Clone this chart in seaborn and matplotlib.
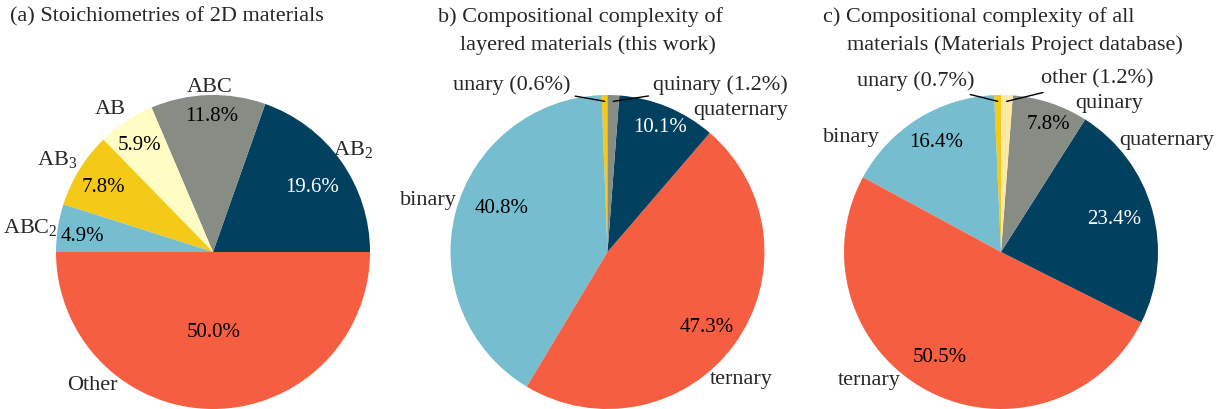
import matplotlib
matplotlib.use("Agg")
import matplotlib.pyplot as plt
import seaborn as sns
import numpy as np

# ---- data ----
stoich_labels = ["AB$_\\mathregular{2}$", "ABC", "AB", "AB$_\\mathregular{3}$", "ABC$_\\mathregular{2}$", "Other"]
stoich_values = [19.6, 11.8, 5.9, 7.8, 4.9, 50.0]

layered_labels = ["unary (0.6%)", "binary", "ternary", "quaternary", "quinary (1.2%)"]
layered_values = [0.6, 40.8, 47.3, 10.1, 1.2]

mp_labels = ["unary (0.7%)", "binary", "ternary", "quaternary", "quinary", "other (1.2%)"]
mp_values = [0.7, 16.4, 50.5, 23.4, 7.8, 1.2]

NAVY = "#01405f"
GREY = "#878c85"
CREAM = "#fffcc4"
YELLOW = "#f5c918"
BLUE = "#77bdd0"
RED = "#f55e40"
CREAM2 = "#fce9a4"

sns.set_theme(style="white")
plt.rcParams["font.family"] = ["Liberation Serif", "DejaVu Serif"]
plt.rcParams["mathtext.fontset"] = "custom"
plt.rcParams["mathtext.rm"] = "Liberation Serif"

W, H = 1220, 409
R = 157
FS_PCT = 15
FS_LAB = 16
FS_TITLE = 16

fig = plt.figure(figsize=(W / 100, H / 100), dpi=100)


def pie_axes(cx, cy):
    return fig.add_axes([(cx - R) / W, (H - cy - R) / H, 2 * R / W, 2 * R / H])


def draw_pie(ax, values, colors, startangle, pct_xy, pct_colors):
    wedges, _ = ax.pie(values, colors=colors, startangle=startangle,
                       counterclock=True, radius=1,
                       wedgeprops=dict(linewidth=0))
    ax.set_xlim(-1, 1)
    ax.set_ylim(-1, 1)
    ax.set_aspect("equal")
    ax.axis("off")
    for i in range(len(values)):
        if pct_xy[i] is not None:
            ax.text(pct_xy[i][0], pct_xy[i][1], f"{values[i]:.1f}%",
                    ha="center", va="center", fontsize=FS_PCT, color=pct_colors[i])
    return wedges


def add_labels(ax, wedges, labels, label_xy, leaders):
    for i, w in enumerate(wedges):
        x, y = label_xy[i]
        if i in leaders:
            # leader line from the label to the thin slice
            mid = np.deg2rad((w.theta1 + w.theta2) / 2)
            tip = (0.96 * np.cos(mid), 0.96 * np.sin(mid))
            ax.annotate(labels[i], xy=tip, xytext=(x, y), ha=leaders[i], va="center",
                        fontsize=FS_LAB, annotation_clip=False,
                        arrowprops=dict(arrowstyle="-", color="black", lw=1,
                                        shrinkA=1, shrinkB=0))
        else:
            ax.text(x, y, labels[i], ha="center", va="center", fontsize=FS_LAB)


# (a)
ax1 = pie_axes(213, 252)
w1 = draw_pie(ax1, stoich_values, [NAVY, GREY, CREAM, YELLOW, BLUE, RED], 0,
              [(0.63, 0.41), (-0.006, 0.86), (-0.465, 0.68), (-0.70, 0.41), (-0.83, 0.10), (0.006, -0.51)],
              ["white", "black", "black", "black", "black", "black"])
add_labels(ax1, w1, stoich_labels,
           [(0.89, 0.65), (-0.02, 1.045), (-0.656, 0.91), (-0.99, 0.586), (-1.165, 0.153), (-0.77, -0.853)], {})

# (b)
ax2 = pie_axes(607.5, 252)
w2 = draw_pie(ax2, layered_values, [YELLOW, BLUE, RED, NAVY, GREY], 90,
              [None, (-0.672, 0.28), (0.634, -0.484), (0.334, 0.796), None],
              ["black", "black", "black", "white", "black"])
add_labels(ax2, w2, layered_labels,
           [(-0.235, 1.064), (-1.14, 0.33), (0.85, -0.815), (0.85, 0.904), (0.29, 1.064)],
           {0: "right", 4: "left"})

# (c)
ax3 = pie_axes(1001, 252)
w3 = draw_pie(ax3, mp_values, [YELLOW, BLUE, RED, NAVY, GREY, CREAM2], 90,
              [None, (-0.41, 0.70), (-0.39, -0.67), (0.72, 0.204), (0.30, 0.81), None],
              ["black", "black", "black", "white", "black", "black"])
add_labels(ax3, w3, mp_labels,
           [(-0.168, 1.089), (-0.955, 0.732), (-0.84, -0.82), (1.057, 0.713), (0.688, 0.949), (0.255, 1.10)],
           {0: "right", 5: "left"})


# titles
def title(x, y, s):
    fig.text(x / W, 1 - y / H, s, ha="left", va="center", fontsize=FS_TITLE)


title(10, 17, "(a) Stoichiometries of 2D materials")
title(438, 17, "b) Compositional complexity of")
title(460, 45, "layered materials (this work)")
title(823, 17, "c) Compositional complexity of all")
title(847, 45, "materials (Materials Project database)")

fig.savefig("out.png", dpi=100, facecolor="white")
